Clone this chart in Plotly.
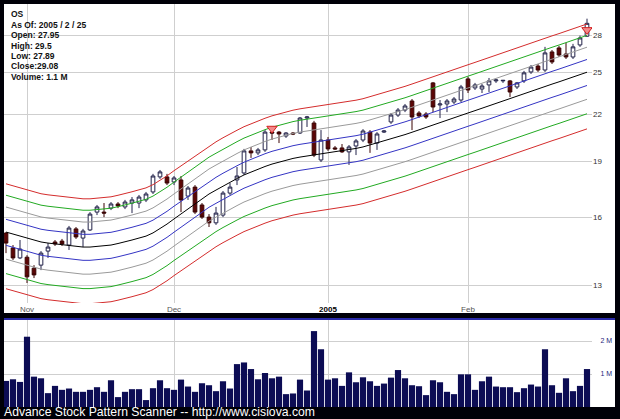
import math
import pandas as pd
import plotly.graph_objects as go

# ---------------- data ----------------
holidays = ["2004-11-25", "2004-12-24", "2005-01-17", "2005-02-21"]
dates = [d.strftime("%Y-%m-%d") for d in pd.bdate_range("2004-10-27", "2005-02-25")
         if d.strftime("%Y-%m-%d") not in holidays]

opens = [15.25, 14.57, 14.13, 14.16, 13.69, 13.82, 14.43, 14.84, 14.88, 14.70,
         15.45, 15.02, 15.40, 16.27, 16.27, 16.47, 16.68, 16.53, 16.73, 16.73,
         16.89, 17.31, 18.13, 18.13, 17.85, 17.96, 17.09, 17.57, 16.63, 16.02,
         15.74, 16.12, 17.25, 17.96, 18.35, 19.64, 19.52, 19.70, 20.81, 20.81,
         20.56, 20.75, 20.75, 21.73, 21.40, 19.10, 20.31, 19.82, 19.82, 19.58,
         19.94, 20.31, 20.81, 20.12, 20.81, 21.47, 21.93, 22.27, 22.90, 22.07,
         22.00, 24.21, 22.62, 22.69, 22.83, 22.97, 24.51, 23.84, 23.76, 24.06,
         24.36, 24.36, 24.36, 23.91, 24.36, 25.04, 25.50, 25.19, 26.63, 26.96,
         26.46, 26.22, 27.21, 27.95]
highs = [15.30, 14.70, 14.93, 14.25, 13.82, 14.43, 14.79, 14.93, 14.98, 15.59,
         15.54, 15.45, 16.27, 16.63, 16.73, 16.78, 16.78, 16.89, 17.04, 17.15,
         17.31, 18.30, 18.52, 18.30, 18.18, 18.18, 17.63, 17.68, 16.73, 16.17,
         16.53, 17.36, 17.79, 18.69, 19.76, 19.88, 19.82, 20.94, 20.94, 20.88,
         20.81, 20.81, 21.80, 21.87, 21.54, 20.94, 20.50, 19.94, 20.06, 20.00,
         20.37, 21.00, 20.94, 20.81, 20.94, 22.07, 22.41, 22.69, 23.04, 22.20,
         22.13, 24.28, 22.97, 23.04, 23.18, 24.06, 24.66, 24.21, 24.13, 24.58,
         24.51, 24.43, 24.43, 24.28, 25.12, 25.58, 25.66, 27.05, 26.79, 27.13,
         27.38, 27.30, 28.00, 29.50]
lows = [14.34, 14.04, 14.08, 13.08, 13.28, 13.61, 14.13, 14.66, 14.66, 14.48,
        14.98, 14.61, 15.35, 16.12, 16.02, 16.37, 16.47, 16.42, 16.22, 16.47,
        16.78, 17.20, 18.02, 17.68, 17.68, 16.27, 16.89, 16.17, 15.93, 15.54,
        15.64, 16.02, 17.15, 17.68, 18.24, 19.22, 19.39, 19.58, 20.31, 20.12,
        20.44, 20.62, 20.69, 21.14, 19.27, 18.98, 19.64, 19.70, 19.52, 18.81,
        19.39, 20.18, 19.52, 19.70, 20.75, 21.34, 21.80, 22.13, 20.94, 21.73,
        21.67, 22.13, 21.73, 22.13, 22.69, 22.83, 23.47, 23.69, 23.47, 23.54,
        24.21, 24.21, 23.18, 23.76, 24.21, 24.89, 25.04, 25.04, 25.66, 26.22,
        26.06, 26.06, 27.05, 27.89]
closes = [14.79, 14.13, 14.52, 13.33, 13.41, 14.34, 14.61, 14.75, 14.75, 15.49,
          15.07, 15.35, 16.17, 16.53, 16.22, 16.68, 16.58, 16.78, 16.89, 17.04,
          17.20, 18.18, 18.41, 17.79, 18.07, 16.89, 17.52, 16.27, 16.02, 15.74,
          16.22, 17.25, 17.57, 18.18, 19.64, 19.52, 19.70, 20.81, 20.75, 20.69,
          20.75, 20.69, 21.73, 21.80, 19.39, 20.31, 19.76, 19.76, 19.58, 19.88,
          20.25, 20.88, 20.12, 20.69, 20.88, 21.93, 22.27, 22.55, 21.80, 21.87,
          21.80, 22.48, 22.69, 22.90, 23.04, 23.91, 23.69, 24.06, 23.98, 24.36,
          24.43, 24.40, 23.54, 24.21, 24.97, 25.42, 25.19, 26.55, 25.82, 26.38,
          26.22, 27.05, 27.80, 29.08]
volumes_m = [0.79, 0.84, 0.76, 2.13, 0.92, 0.87, 0.42, 0.64, 0.52, 0.56,
             0.46, 0.46, 0.52, 0.60, 0.46, 0.81, 0.30, 0.46, 0.54, 0.54,
             0.21, 0.57, 0.81, 0.57, 0.52, 0.83, 0.62, 0.46, 0.72, 0.66,
             0.48, 0.78, 0.56, 1.30, 1.35, 1.15, 0.84, 1.03, 0.87, 0.92,
             0.39, 0.41, 0.83, 0.50, 2.30, 1.75, 0.83, 0.87, 0.64, 1.05,
             0.75, 0.90, 0.78, 0.64, 0.71, 0.89, 1.12, 0.87, 0.66, 0.63,
             0.36, 0.81, 0.75, 0.46, 0.39, 0.99, 0.99, 0.52, 0.78, 0.92,
             0.62, 0.60, 0.60, 0.45, 0.57, 0.68, 0.62, 1.75, 0.66, 0.43,
             0.87, 0.48, 0.64, 1.15]
# centre line of the price envelope
center = [15.30, 15.21, 15.11, 15.02, 14.93, 14.84, 14.79, 14.75, 14.70, 14.66,
          14.63, 14.61, 14.61, 14.63, 14.66, 14.70, 14.77, 14.84, 14.93, 15.02,
          15.11, 15.26, 15.45, 15.68, 15.93, 16.17, 16.42, 16.68, 16.94, 17.20,
          17.41, 17.63, 17.85, 18.04, 18.24, 18.41, 18.58, 18.72, 18.86, 18.98,
          19.10, 19.19, 19.27, 19.33, 19.39, 19.45, 19.51, 19.57, 19.63, 19.70,
          19.79, 19.88, 20.00, 20.12, 20.25, 20.37, 20.50, 20.65, 20.80, 20.96,
          21.11, 21.27, 21.43, 21.59, 21.75, 21.91, 22.07, 22.23, 22.40, 22.56,
          22.73, 22.90, 23.07, 23.24, 23.41, 23.59, 23.76, 23.94, 24.12, 24.29,
          24.47, 24.65, 24.84, 25.02]
band_pct = [4, 8, 12, 16]                       # envelope offsets, percent
band_colors = ["#3434c4", "#9a9a9a", "#22aa22", "#d42c2c"]
signal_dates = [dates[38], dates[83]]
signal_prices = [21.04, 28.50]

price_ticks = [13, 16, 19, 22, 25, 28]
month_ticks = ["2004-11-01", "2004-12-01", "2005-01-03", "2005-02-01"]
month_labels = ["Nov", "Dec", "<b><span style='color:#000000'>2005</span></b>", "Feb"]
vol_ticks = [1, 2]
vol_labels = ["1 M", "2 M"]
info_lines = ["OS", "As Of: 2005 / 2 / 25", "Open: 27.95", "High: 29.5",
              "Low: 27.89", "Close:29.08", "Volume: 1.1 M"]
footer = "Advance Stock Pattern Scanner -- http://www.cisiova.com"

# ---------------- layout geometry (pixels) ----------------
W, H = 620, 419
L, R, T, B = 4, 592, 4, 407
def fx(X):
    return (X - L) / (R - L)
def fy(Y):
    return (B - Y) / (B - T)

PRICE_BOTTOM = 303
VOL_TOP = 320
# log axis calibration: 13 at y=285, 325 px per natural-log unit
lg13 = math.log10(13)
k = 325 * math.log(10)
price_range = [lg13 + (285 - PRICE_BOTTOM) / k, lg13 + (285 - T) / k]
x_range = [-2 / 7, -2 / 7 + (R - L) / 7]
vol_range = [0, (B - VOL_TOP) / 33.0]

fig = go.Figure()

# envelope lines
for pct, col in zip(band_pct, band_colors):
    up = [c * (1 + pct / 100) for c in center]
    dn = [c * (1 - pct / 100) for c in center]
    for ys in (up, dn):
        fig.add_trace(go.Scatter(x=dates, y=ys, mode="lines",
                                 line=dict(color=col, width=1),
                                 hoverinfo="skip", showlegend=False,
                                 xaxis="x", yaxis="y"))
fig.add_trace(go.Scatter(x=dates, y=center, mode="lines",
                         line=dict(color="#000000", width=1),
                         hoverinfo="skip", showlegend=False, xaxis="x", yaxis="y"))

fig.add_trace(go.Candlestick(
    x=dates, open=opens, high=highs, low=lows, close=closes,
    increasing=dict(fillcolor="#ffffff", line=dict(color="#23234a", width=1)),
    decreasing=dict(fillcolor="#5c0606", line=dict(color="#3a0505", width=1)),
    whiskerwidth=0, showlegend=False, xaxis="x", yaxis="y"))

fig.add_trace(go.Scatter(x=signal_dates, y=signal_prices, mode="markers",
                         marker=dict(symbol="triangle-down", size=9, color="#f28a8a",
                                     line=dict(color="#d42020", width=1)),
                         showlegend=False, hoverinfo="skip", xaxis="x", yaxis="y"))

fig.add_trace(go.Bar(x=dates, y=volumes_m, marker=dict(color="#0c0c54", line=dict(width=0)),
                     showlegend=False, xaxis="x2", yaxis="y2"))

grid = "#cfcfcf"
fig.update_layout(
    width=W, height=H,
    margin=dict(l=L, r=W - R, t=T, b=H - B, pad=0),
    paper_bgcolor="#000008", plot_bgcolor="#ffffff",
    bargap=0.12, boxgap=0.25,
    font=dict(family="Liberation Sans, Arial, sans-serif"),
    xaxis=dict(type="category", categoryorder="array", categoryarray=dates,
               range=x_range, domain=[0, 1], anchor="y",
               tickvals=month_ticks, ticktext=month_labels,
               tickfont=dict(size=8, color="#555555"),
               showgrid=True, gridcolor=grid, gridwidth=1, ticks="",
               showline=False, zeroline=False, rangeslider=dict(visible=False)),
    yaxis=dict(type="log", range=price_range, domain=[fy(PRICE_BOTTOM), 1],
               side="right", anchor="x", tickvals=price_ticks,
               ticktext=[str(v) for v in price_ticks],
               tickfont=dict(size=8, color="#333333"),
               showgrid=True, gridcolor=grid, ticks="", showline=False, zeroline=False),
    xaxis2=dict(type="category", categoryorder="array", categoryarray=dates,
                range=x_range, domain=[0, 1], anchor="y2",
                tickvals=month_ticks, showticklabels=False,
                showgrid=True, gridcolor=grid, ticks="", showline=False, zeroline=False),
    yaxis2=dict(range=vol_range, domain=[0, fy(VOL_TOP)], side="right", anchor="x2",
                tickvals=vol_ticks, ticktext=vol_labels,
                tickfont=dict(size=7, color="#24247a"),
                ticks="outside", ticklen=6, tickcolor="#ffffff",
                showgrid=True, gridcolor=grid, showline=False, zeroline=False),
)

# white panels behind the plot areas, blue separator line
shapes = [
    dict(type="rect", xref="paper", yref="paper", x0=fx(4), x1=fx(615),
         y0=fy(313), y1=fy(4), fillcolor="#ffffff", line=dict(width=0), layer="below"),
    dict(type="rect", xref="paper", yref="paper", x0=fx(4), x1=fx(615),
         y0=fy(407), y1=fy(VOL_TOP), fillcolor="#ffffff", line=dict(width=0), layer="below"),
    dict(type="line", xref="paper", yref="paper", x0=fx(4), x1=fx(615),
         y0=fy(319), y1=fy(319), line=dict(color="#2a2aa8", width=2), layer="below"),
]
fig.update_layout(shapes=shapes)

ann = []
for i, line in enumerate(info_lines):
    ann.append(dict(xref="paper", yref="paper", x=fx(8.5), y=fy(14.3 + 10.4 * i),
                    text="<b>" + line + "</b>", showarrow=False, xanchor="left",
                    yanchor="middle", font=dict(size=8.5, color="#111111")))
ann.append(dict(xref="paper", yref="paper", x=fx(2), y=fy(412.3), text=footer,
                showarrow=False, xanchor="left", yanchor="middle",
                font=dict(size=12.2, color="#ffffff")))
fig.update_layout(annotations=ann)

fig.write_html("out.html", config={"displayModeBar": False},
               post_script="document.body.style.margin='0';document.body.style.background='#000008';")
